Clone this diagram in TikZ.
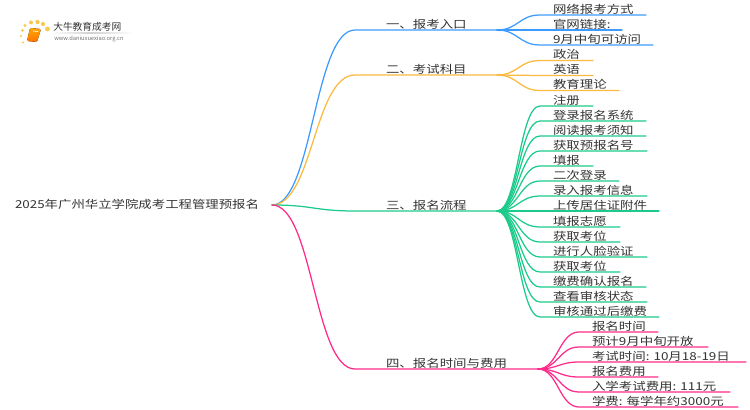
\documentclass[tikz,border=0pt]{standalone}
\usepackage{graphicx}
\usepackage{fontspec}
\setmainfont{Noto Sans CJK SC}
\definecolor{cblue}{HTML}{3D9BFF}
\definecolor{corange}{HTML}{FBB93F}
\definecolor{cgreen}{HTML}{1CCB8B}
\definecolor{cpink}{HTML}{FF2A8A}
\definecolor{ctext}{HTML}{333333}
\definecolor{cdot}{HTML}{F8C94E}
\tikzset{
  barebox/.style={inner sep=0pt,outer sep=0pt,text=ctext,text height=9.5*0.75pt,text depth=1.6*0.75pt,font=\fontsize{8.2pt}{10pt}\selectfont},
  underbox/.style={barebox,anchor=south west},
  conn/.style={line width=1.25*0.75pt,line cap=round}
}
% name, x start, x end, y of line, text inset, text, colour, from, control dx
\newcommand{\ulnode}[9]{%
  \pgfmathsetlengthmacro{\boxw}{(#3-#2)*0.75pt}%
  \pgfmathsetlengthmacro{\boxi}{#5*0.75pt}%
  \node[underbox] (#1) at (#2,#4) {\makebox[\boxw][l]{\hspace*{\boxi}\scalebox{1.23}[1]{#6}}};
  \draw[conn,#7] (#8) .. controls +(#9,0) and +(-#9,0) .. (#1.south west) -- (#1.south east);
}
\begin{document}
\begin{tikzpicture}[x=0.75pt,y=-0.75pt]
\useasboundingbox (0,0) rectangle (750,410);
% logo
\foreach \dx/\dy/\dr in {25/25.5/1.7,31/22.5/2,37.5/22/2.2,43/24/2.1,47.5/29/2.4,22.5/30.5/1.5,21/36/1.2,23/42.5/1.1}
  \fill[cdot] (\dx,\dy) circle (\dr);
\fill[top color=orange!70!yellow,bottom color=orange!90!red,rounded corners=1pt] (30,28) -- (41,29) -- (37,42) -- (27,41) -- cycle;
\draw[white,line width=0.5pt] (33,31) -- (38,31.5);
\fill[left color=white,right color=white,middle color=black!18] (50,32.8) rectangle (133,33.5);
\node[inner sep=0pt,text=ctext,font=\fontsize{7.3pt}{8pt}\selectfont,anchor=west] (logoa) at (53,27) {大牛教育成考网};
\node[inner sep=0pt,text=black!55,font=\fontsize{4.3pt}{5pt}\selectfont,anchor=west] (logob) at (54,38.5) {www.daniuxuexiao.org.cn};
% root
\pgfmathsetlengthmacro{\rootw}{257*0.75pt}
\node[barebox,anchor=west] (root) at (15,205) {\makebox[\rootw][l]{\scalebox{1.225}[1]{2025年广州华立学院成考工程管理预报名}}};
% branches
\ulnode{b1}{355}{497}{30}{31}{一、报考入口}{cblue}{root.east}{41}
\ulnode{b2}{355}{497}{75}{31}{二、考试科目}{corange}{root.east}{41}
\ulnode{b3}{355}{497}{211}{31}{三、报名流程}{cgreen}{root.east}{41}
\ulnode{b4}{355}{538}{369}{31}{四、报名时间与费用}{cpink}{root.east}{41}
% leaves 1
\ulnode{a1}{540}{646}{15}{13}{网络报考方式}{cblue}{b1.south east}{21}
\ulnode{a2}{540}{622}{30}{13}{官网链接:}{cblue}{b1.south east}{21}
\ulnode{a3}{540}{653}{45}{13}{9月中旬可访问}{cblue}{b1.south east}{21}
% leaves 2
\ulnode{c1}{540}{593}{60.5}{13}{政治}{corange}{b2.south east}{21}
\ulnode{c2}{540}{593}{75.5}{13}{英语}{corange}{b2.south east}{21}
\ulnode{c3}{540}{619}{90.5}{13}{教育理论}{corange}{b2.south east}{21}
% leaves 3
\ulnode{d1}{540}{593}{106}{13}{注册}{cgreen}{b3.south east}{21}
\ulnode{d2}{540}{646}{121}{13}{登录报名系统}{cgreen}{b3.south east}{21}
\ulnode{d3}{540}{646}{136}{13}{阅读报考须知}{cgreen}{b3.south east}{21}
\ulnode{d4}{540}{647}{151}{13}{获取预报名号}{cgreen}{b3.south east}{21}
\ulnode{d5}{540}{593}{166}{13}{填报}{cgreen}{b3.south east}{21}
\ulnode{d6}{540}{619}{181}{13}{二次登录}{cgreen}{b3.south east}{21}
\ulnode{d7}{540}{647}{196}{13}{录入报考信息}{cgreen}{b3.south east}{21}
\ulnode{d8}{540}{659}{211}{13}{上传居住证附件}{cgreen}{b3.south east}{21}
\ulnode{d9}{540}{620}{227}{13}{填报志愿}{cgreen}{b3.south east}{21}
\ulnode{d10}{540}{620}{242}{13}{获取考位}{cgreen}{b3.south east}{21}
\ulnode{d11}{540}{647}{257}{13}{进行人脸验证}{cgreen}{b3.south east}{21}
\ulnode{d12}{540}{620}{272}{13}{获取考位}{cgreen}{b3.south east}{21}
\ulnode{d13}{540}{646}{287}{13}{缴费确认报名}{cgreen}{b3.south east}{21}
\ulnode{d14}{540}{647}{302}{13}{查看审核状态}{cgreen}{b3.south east}{21}
\ulnode{d15}{540}{659}{317}{13}{审核通过后缴费}{cgreen}{b3.south east}{21}
% leaves 4
\ulnode{e1}{579}{658}{332}{13}{报名时间}{cpink}{b4.south east}{20}
\ulnode{e2}{579}{708}{347}{13}{预计9月中旬开放}{cpink}{b4.south east}{20}
\ulnode{e3}{579}{746}{362}{13}{考试时间: 10月18-19日}{cpink}{b4.south east}{20}
\ulnode{e4}{579}{658}{377}{13}{报名费用}{cpink}{b4.south east}{20}
\ulnode{e5}{579}{730}{392}{13}{入学考试费用: 111元}{cpink}{b4.south east}{20}
\ulnode{e6}{579}{738}{407}{13}{学费: 每学年约3000元}{cpink}{b4.south east}{20}
\end{tikzpicture}
\end{document}
